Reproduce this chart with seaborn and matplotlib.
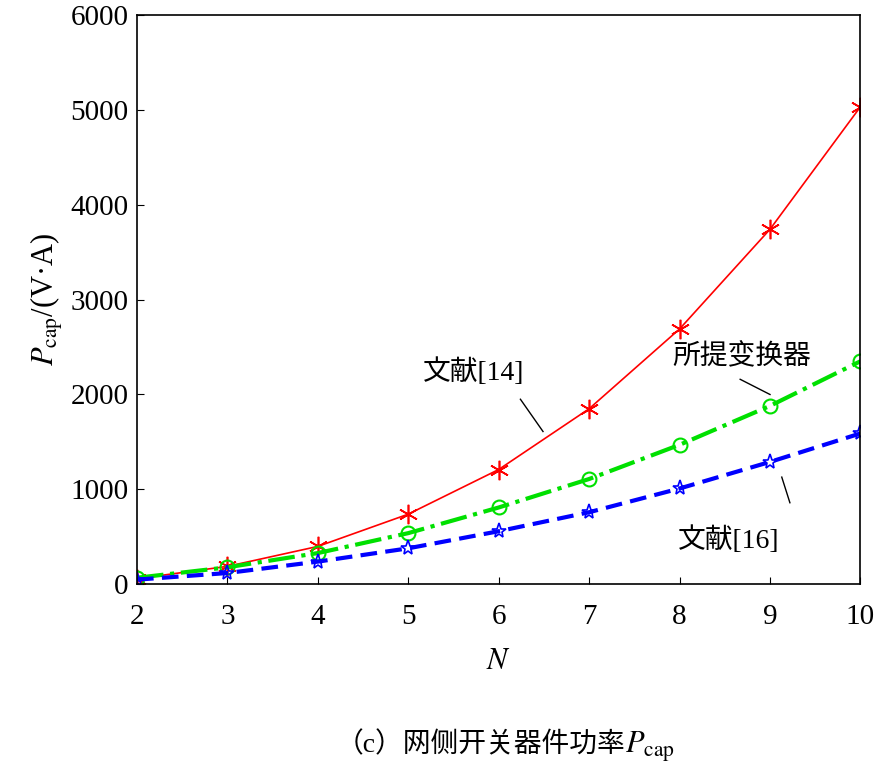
import numpy as np
import pandas as pd
import seaborn as sns
import matplotlib.pyplot as plt
from matplotlib import font_manager

N = [2, 3, 4, 5, 6, 7, 8, 9, 10]
ref14 = [60, 190, 400, 740, 1210, 1850, 2690, 3740, 5030]
proposed = [70, 180, 330, 540, 810, 1110, 1470, 1880, 2350]
ref16 = [50, 120, 240, 380, 560, 760, 1010, 1290, 1590]

cjk = None
for name in ["Noto Sans CJK SC", "Noto Sans CJK JP", "Noto Sans CJK TC"]:
    try:
        font_manager.findfont(name, fallback_to_default=False)
        cjk = name
        break
    except Exception:
        pass

plt.rcParams.update({
    "font.family": ["Liberation Serif"] + ([cjk] if cjk else []),
    "font.size": 20,
    "mathtext.fontset": "stix",
})

fig = plt.figure(figsize=(8.78, 7.72), dpi=100)
ax = fig.add_axes([0.156, 0.243, 0.824, 0.738])

sns.lineplot(x=N, y=ref14, ax=ax, color="red", linewidth=1.2,
             marker=(6, 2, 0), markersize=14, markeredgewidth=1.2,
             markeredgecolor="red")
sns.lineplot(x=N, y=proposed, ax=ax, color="#00e000", linewidth=3,
             linestyle="-.", marker="o", markersize=10, markerfacecolor="none",
             markeredgecolor="#00e000", markeredgewidth=1.5)
sns.lineplot(x=N, y=ref16, ax=ax, color="blue", linewidth=3,
             linestyle=(0, (4, 2)), marker="*", markersize=11,
             markerfacecolor="none", markeredgecolor="blue", markeredgewidth=1.2)

ax.set_xlim(2, 10)
ax.set_ylim(0, 6000)
ax.set_xticks(N)
ax.set_yticks(range(0, 6001, 1000))
ax.tick_params(direction="in", length=5, labelsize=21)
ax.tick_params(axis="x", pad=14)
ax.tick_params(axis="y", pad=6)
for s in ax.spines.values():
    s.set_linewidth(1.2)

ax.set_xlabel("$N$", fontsize=22, labelpad=12)
ax.set_ylabel(r"$P_{\rm cap}$/(V·A)", fontsize=22, labelpad=4)

ax.text(5.72, 2240, "文献[14]", ha="center", va="center", fontsize=20)
ax.plot([6.24, 6.49], [1950, 1610], color="black", lw=1)
ax.text(8.69, 2390, "所提变换器", ha="center", va="center", fontsize=20)
ax.plot([8.67, 9.0], [2160, 2000], color="black", lw=1)
ax.text(8.54, 470, "文献[16]", ha="center", va="center", fontsize=20)
ax.plot([9.13, 9.22], [1130, 860], color="black", lw=1)

fig.text(0.712, 0.025, "（c）网侧开关器件功率", ha="right", va="baseline", fontsize=20)
fig.text(0.712, 0.025, r"$P_{\rm cap}$", ha="left", va="baseline", fontsize=22)

fig.savefig("out.png", dpi=100)
